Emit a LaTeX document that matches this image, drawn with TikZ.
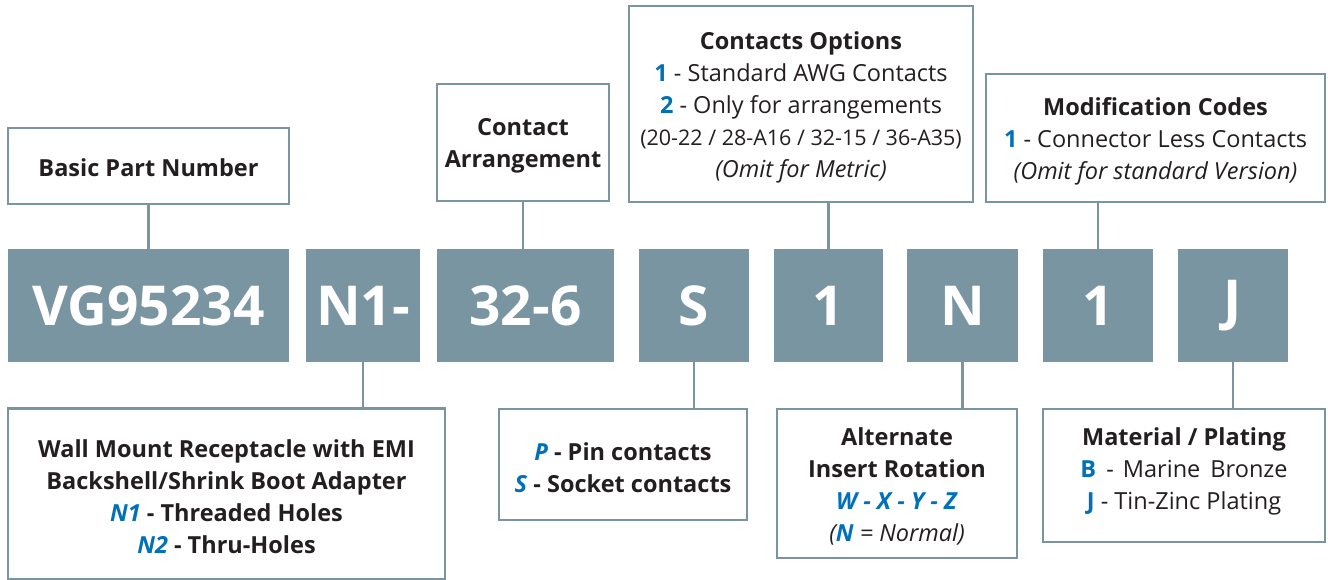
\documentclass[tikz,border=0pt]{standalone}
\usepackage{fontspec}
\setmainfont{Open Sans}
\definecolor{steel}{RGB}{121,149,162}
\definecolor{ink}{RGB}{35,31,32}
\definecolor{codeblue}{RGB}{0,112,186}
\newcommand{\bl}[1]{\textcolor{codeblue}{#1}}
\begin{document}
\begin{tikzpicture}[x=1pt,y=-1pt,
  infobox/.style={draw=steel,line width=2.5pt,fill=white,inner sep=0pt},
  boxtext/.style={inner sep=0pt,align=center,text=ink,font=\fontsize{23.5}{32}\selectfont},
  codebox/.style={fill=steel,inner sep=0pt,text=white,font=\fontsize{55}{60}\selectfont\bfseries,
    minimum height=113pt},
  link/.style={draw=steel,line width=2.5pt}]
\useasboundingbox (0,0) rectangle (1328,580);
% top info boxes
\node[infobox,minimum width=281pt,minimum height=76pt] (basic) at (148.5,166) {};
\node[boxtext] (basic-t) at ([yshift=-2pt]basic.center) {\textbf{Basic Part Number}};
\node[infobox,minimum width=172pt,minimum height=117pt] (arr) at (523,142.5) {};
\node[boxtext] (arr-t) at ([yshift=-3pt]arr.center) {\textbf{Contact}\\\textbf{Arrangement}};
\node[infobox,minimum width=344pt,minimum height=196pt] (opt) at (801,104) {};
\node[boxtext] (opt-t) at ([yshift=-3pt]opt.center) {\textbf{Contacts Options}\\
  \bl{\textbf{1}} - Standard AWG Contacts\\
  \bl{\textbf{2}} - Only for arrangements\\
  {\fontsize{21.5}{32}\selectfont (20-22 / 28-A16 / 32-15 / 36-A35)}\\
  \textit{(Omit for Metric)}};
\node[infobox,minimum width=339pt,minimum height=128pt] (mod) at (1155.5,138) {};
\node[boxtext] (mod-t) at ([yshift=-3pt]mod.center) {\textbf{Modification Codes}\\
  \bl{\textbf{1}} - Connector Less Contacts\\
  \textit{(Omit for standard Version)}};
% code boxes
\node[codebox,minimum width=281pt] (vg) at (148.5,305.5) {VG95234};
\node[codebox,minimum width=114pt] (n1) at (363,305.5) {N1-};
\node[codebox,minimum width=177pt] (ar) at (525.5,305.5) {32-6};
\node[codebox,minimum width=110pt] (s) at (694,305.5) {S};
\node[codebox,minimum width=109pt] (one) at (828.5,305.5) {1};
\node[codebox,minimum width=111pt] (n) at (962.5,305.5) {N};
\node[codebox,minimum width=110pt] (onem) at (1098,305.5) {1};
\node[codebox,minimum width=110pt] (j) at (1233,305.5) {J};
% bottom info boxes
\node[infobox,minimum width=437pt,minimum height=171pt] (wall) at (226.5,494) {};
\node[boxtext,font=\fontsize{23.5}{32}\selectfont\bfseries] (wall-t) at ([yshift=-3pt]wall.center) {Wall Mount Receptacle with EMI\\
  Backshell/Shrink Boot Adapter\\
  \bl{\textit{N1}} - Threaded Holes\\
  \bl{\textit{N2}} - Thru-Holes};
\node[infobox,minimum width=248pt,minimum height=111pt] (ps) at (623,464.5) {};
\node[boxtext,font=\fontsize{23.5}{32}\selectfont\bfseries] (ps-t) at ([yshift=-3pt]ps.center) {\bl{\textit{P}} - Pin contacts\\
  \bl{\textit{S}} - Socket contacts};
\node[infobox,minimum width=240pt,minimum height=149pt] (alt) at (897,483.5) {};
\node[boxtext] (alt-t) at ([yshift=-3pt]alt.center) {\textbf{Alternate}\\
  \textbf{Insert Rotation}\\
  \bl{\textbf{\textit{W - X - Y - Z}}}\\
  \textit{(\bl{\textbf{N}} = Normal)}};
\node[infobox,minimum width=282pt,minimum height=133pt] (mat) at (1184,475.5) {};
\node[boxtext] (mat-t) at ([yshift=4pt]mat.center) {\textbf{Material / Plating}\\
  \bl{\textbf{B}}\hspace{4pt} - \hspace{3pt}Marine\hspace{4pt} Bronze\\
  \bl{\textbf{J}} - Tin-Zinc Plating};
% connectors
\draw[link] (basic.south) -- (vg.north);
\draw[link] (arr.south) -- (arr.south |- ar.north);
\draw[link] (one.north |- opt.south) -- (one.north);
\draw[link] (onem.north |- mod.south) -- (onem.north);
\draw[link] (n1.south) -- (n1.south |- wall.north);
\draw[link] (s.south) -- (s.south |- ps.north);
\draw[link] (n.south) -- (n.south |- alt.north);
\draw[link] (j.south) -- (j.south |- mat.north);
\end{tikzpicture}
\end{document}
